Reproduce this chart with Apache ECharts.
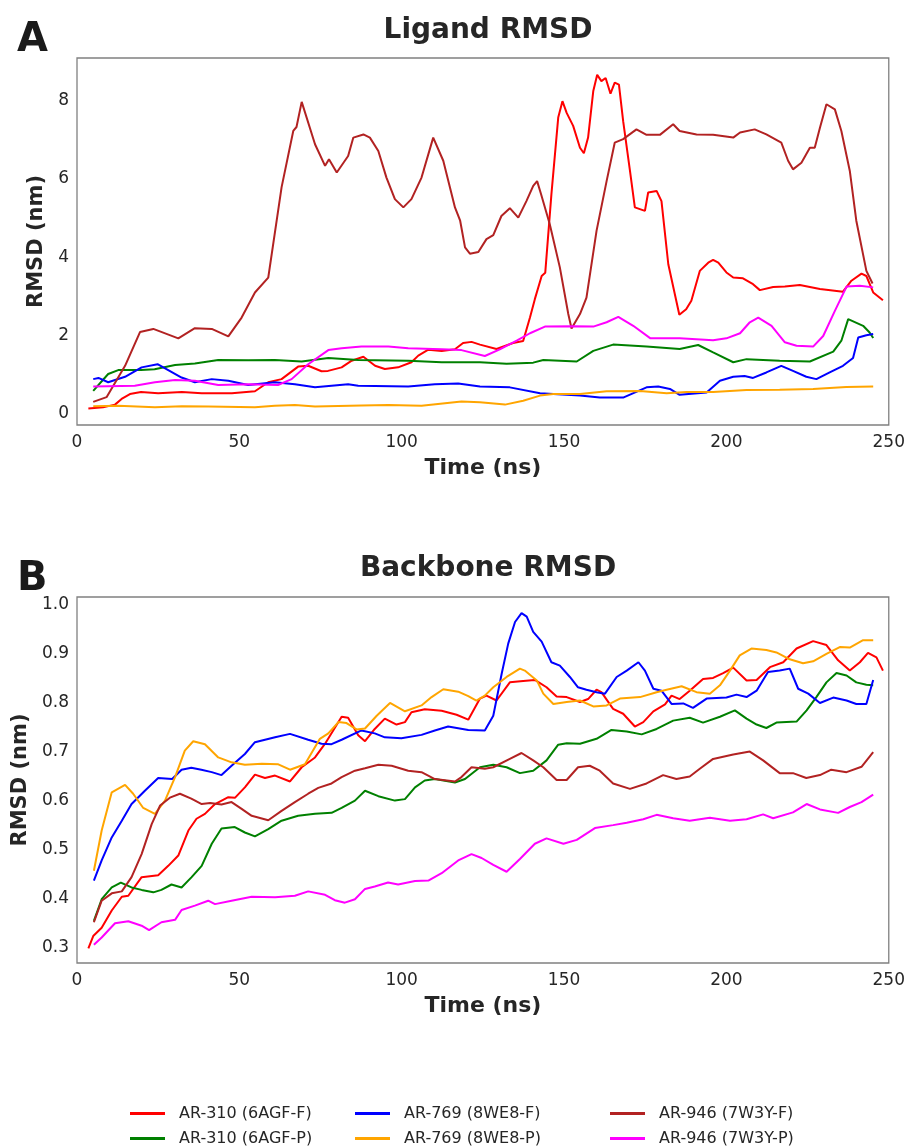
<!DOCTYPE html>
<html>
<head>
<meta charset="utf-8">
<script src="https://cdn.jsdelivr.net/npm/echarts@6/dist/echarts.min.js"></script>
<style>
  html, body { margin: 0; padding: 0; background: #fff; }
  #chart { width: 908px; height: 1148px; }
</style>
</head>
<body>
<div id="chart"></div>
<script>
// series names, in legend order
const names = ['AR-310 (6AGF-F)', 'AR-310 (6AGF-P)', 'AR-769 (8WE8-F)', 'AR-769 (8WE8-P)', 'AR-946 (7W3Y-F)', 'AR-946 (7W3Y-P)'];
const colors = ['#ff0000', '#008000', '#0000ff', '#ffa500', '#b22222', '#ff00ff'];

const timeTicks = [0, 50, 100, 150, 200, 250];
const ligandTicks = [0, 2, 4, 6, 8];
const backboneTicks = [0.3, 0.4, 0.5, 0.6, 0.7, 0.8, 0.9, 1.0];

// Ligand RMSD (nm), [time ns, value]
const lig310F = [[3.5,0.14],[8,0.17],[11.7,0.24],[14,0.4],[16.3,0.51],[19.7,0.56],[25,0.53],[32.3,0.56],[38.4,0.53],[47.7,0.53],[54.8,0.58],[58.9,0.81],[63,0.89],[68.1,1.21],[71.2,1.23],[75.3,1.09],[77.3,1.1],[81.5,1.19],[84.6,1.36],[88.2,1.46],[91.8,1.23],[94.8,1.15],[98.9,1.19],[103,1.32],[105.1,1.49],[108.2,1.64],[112.3,1.61],[116.4,1.65],[118.9,1.81],[121.5,1.84],[124.1,1.77],[129.2,1.66],[134.3,1.81],[137.4,1.86],[139.5,2.46],[141,2.93],[143.1,3.52],[144.2,3.6],[146.1,5.6],[148.2,7.56],[149.5,7.98],[150.8,7.68],[152.8,7.35],[154.9,6.79],[156.1,6.65],[157.4,7.05],[159,8.24],[160.2,8.65],[161.5,8.49],[162.8,8.57],[164.3,8.17],[165.6,8.45],[166.9,8.4],[168.2,7.47],[170.3,6.2],[171.8,5.27],[174.9,5.18],[175.9,5.65],[178.5,5.69],[180,5.43],[182.1,3.82],[185.5,2.53],[187.6,2.67],[189.2,2.89],[191.8,3.65],[194.4,3.86],[195.9,3.93],[197.5,3.86],[200,3.61],[202.1,3.48],[205.1,3.46],[208.2,3.31],[210.3,3.16],[214.4,3.24],[218,3.25],[222.6,3.29],[228.8,3.19],[235.9,3.12],[238.5,3.4],[241.6,3.58],[243.1,3.52],[245.2,3.1],[248.2,2.9]];
const lig310P = [[5,0.59],[9.6,1.02],[12.7,1.12],[19.7,1.12],[23.9,1.14],[30.2,1.25],[36.3,1.29],[43.5,1.38],[52.7,1.37],[60.9,1.38],[69.2,1.34],[77.4,1.43],[86.6,1.38],[102,1.36],[112.3,1.32],[124.1,1.32],[132.3,1.28],[140.5,1.31],[143.6,1.38],[153.9,1.34],[159,1.61],[165.1,1.77],[175.4,1.72],[185.6,1.66],[191.3,1.76],[195.9,1.57],[202.1,1.32],[206.2,1.4],[216.4,1.36],[225.7,1.34],[232.9,1.59],[235.4,1.87],[237.5,2.42],[242.1,2.25],[244.1,2.08],[245.2,1.94]];
const lig769F = [[5,0.89],[6.6,0.92],[9.6,0.81],[14.8,0.95],[19.9,1.19],[24.8,1.27],[28.1,1.12],[32.2,0.93],[36.3,0.81],[41.5,0.89],[46.6,0.85],[52.7,0.74],[60.9,0.81],[67.1,0.76],[73.3,0.68],[83.5,0.76],[86.6,0.72],[102,0.7],[110.2,0.76],[117.4,0.78],[124.1,0.7],[133.3,0.68],[142.6,0.53],[154.9,0.47],[161,0.42],[168.2,0.42],[175.4,0.68],[179,0.7],[182.6,0.64],[185.6,0.49],[193.9,0.55],[198,0.85],[202.1,0.95],[205.6,0.97],[208.2,0.92],[212.3,1.06],[216.9,1.23],[220.5,1.1],[224.6,0.95],[227.7,0.89],[231.8,1.06],[235.9,1.23],[239,1.43],[240.6,1.95],[243.1,2.01],[245.2,2.04]];
const lig769P = [[5,0.2],[12.7,0.21],[24,0.17],[32.3,0.2],[40.4,0.19],[54.8,0.17],[60.9,0.21],[67.1,0.23],[73.3,0.19],[87.6,0.22],[95.9,0.23],[106.1,0.21],[118.4,0.32],[124.1,0.3],[131.8,0.24],[137.4,0.34],[142.6,0.47],[146.7,0.51],[154.9,0.51],[163.1,0.58],[173.4,0.59],[181.6,0.53],[187.7,0.56],[195.9,0.56],[206.2,0.61],[216.4,0.62],[226.7,0.64],[236.9,0.69],[245.2,0.7]];
const lig946F = [[5,0.31],[9.1,0.43],[14.8,1.23],[19.4,2.09],[23.5,2.17],[31.2,1.93],[36.3,2.19],[41.5,2.17],[46.6,1.98],[50.7,2.46],[54.8,3.1],[58.9,3.48],[63,5.78],[66.6,7.22],[67.6,7.32],[69.2,7.96],[73.3,6.88],[76.4,6.33],[77.6,6.5],[80,6.16],[83.5,6.58],[85.1,7.05],[88.2,7.13],[90.2,7.05],[92.8,6.71],[95.3,6.03],[97.9,5.48],[100.5,5.27],[103,5.48],[106.1,6.03],[109.7,7.05],[112.8,6.46],[116.4,5.27],[118,4.93],[119.5,4.25],[121,4.09],[123.6,4.13],[126.1,4.46],[128.2,4.56],[130.7,5.05],[133.3,5.25],[135.9,5.01],[138.4,5.43],[140.5,5.82],[141.7,5.94],[142.9,5.61],[145.6,4.84],[148.7,3.74],[151.3,2.55],[152.3,2.18],[154.9,2.55],[156.9,2.97],[160,4.67],[163.1,5.94],[165.6,6.92],[168.2,7.01],[172.3,7.26],[175.4,7.12],[179.5,7.12],[183.6,7.39],[185.6,7.22],[190.8,7.13],[195.9,7.12],[202.1,7.05],[204.2,7.18],[208.7,7.26],[212.3,7.13],[216.9,6.92],[219,6.46],[220.5,6.24],[223.1,6.41],[225.7,6.79],[227.2,6.79],[228.8,7.3],[230.8,7.9],[233.4,7.77],[235.4,7.22],[238,6.2],[240,4.93],[243.1,3.65],[245,3.33]];
const lig946P = [[5,0.7],[17.8,0.72],[24,0.81],[30.2,0.87],[36.3,0.85],[43.5,0.74],[52.7,0.76],[61.9,0.74],[66.1,0.89],[71.2,1.27],[77.4,1.63],[81.5,1.68],[87.6,1.72],[95.9,1.72],[102,1.68],[112.3,1.65],[118.4,1.63],[125.6,1.48],[130.2,1.65],[135.4,1.87],[139.5,2.06],[144.1,2.23],[152.8,2.24],[159,2.23],[163.1,2.34],[166.7,2.48],[171.3,2.25],[176.6,1.93],[185.6,1.93],[195.9,1.88],[200,1.93],[204.2,2.06],[207.2,2.34],[209.8,2.46],[213.9,2.25],[218,1.83],[221.6,1.74],[226.7,1.72],[229.8,1.99],[233.4,2.63],[237,3.25],[241.1,3.27],[245.2,3.23]];

// Backbone RMSD (nm), [time ns, value]
const bb310F = [[3.5,0.299],[5,0.324],[7.6,0.341],[10.7,0.376],[13.8,0.404],[15.8,0.406],[19.9,0.444],[25,0.448],[28.1,0.467],[31.2,0.488],[34.3,0.539],[36.8,0.563],[39.4,0.573],[42.5,0.593],[46.6,0.607],[48.7,0.606],[51.7,0.627],[54.8,0.653],[57.9,0.646],[61,0.651],[65.6,0.639],[69.2,0.668],[73.3,0.688],[76.4,0.716],[78.9,0.743],[81.5,0.771],[83.5,0.769],[86.6,0.733],[88.7,0.721],[91.7,0.746],[94.8,0.767],[98.4,0.755],[101,0.76],[103,0.78],[107.1,0.786],[112.3,0.783],[116.9,0.775],[120.5,0.765],[124.1,0.808],[126.1,0.814],[129.2,0.804],[133.3,0.841],[137.4,0.844],[141,0.846],[144.6,0.831],[147.7,0.812],[150.8,0.811],[154.9,0.801],[157.4,0.807],[160,0.826],[161.5,0.821],[165.1,0.787],[168.2,0.777],[171.8,0.751],[174.4,0.76],[177.5,0.782],[181.1,0.796],[183.1,0.814],[185.6,0.807],[188.7,0.824],[192.8,0.848],[195.9,0.85],[199,0.86],[202.1,0.871],[206.2,0.845],[209.3,0.846],[213.4,0.872],[217.5,0.882],[221.6,0.91],[226.7,0.925],[230.8,0.917],[234.4,0.886],[238,0.865],[241.1,0.882],[243.6,0.901],[246.2,0.892],[248.2,0.865]];
const bb310P = [[5.2,0.355],[7.6,0.399],[10.7,0.423],[13.5,0.433],[16.8,0.423],[19.9,0.418],[23.5,0.413],[26,0.418],[29.1,0.429],[32.2,0.423],[35.3,0.444],[38.4,0.467],[41.5,0.512],[44.5,0.543],[48.6,0.546],[51.7,0.535],[54.8,0.527],[58.9,0.542],[63,0.559],[68.1,0.569],[73.3,0.573],[78.4,0.575],[81.5,0.585],[85.6,0.6],[88.7,0.62],[92.8,0.609],[97.9,0.6],[101,0.603],[104.1,0.627],[107.1,0.641],[110.2,0.644],[116.4,0.637],[119.5,0.644],[124.1,0.668],[128.2,0.673],[132.3,0.668],[136.4,0.656],[140.5,0.661],[144.6,0.682],[148.2,0.714],[150.8,0.717],[154.9,0.716],[160,0.726],[164.6,0.744],[169.3,0.741],[173.9,0.735],[178.5,0.746],[183.6,0.763],[188.7,0.769],[192.8,0.759],[198,0.771],[202.6,0.784],[206.2,0.767],[209.3,0.755],[212.3,0.748],[215.4,0.759],[221.6,0.761],[224.7,0.784],[227.7,0.811],[230.8,0.841],[233.9,0.86],[237,0.855],[240,0.841],[243.1,0.836],[245.2,0.835]];
const bb769F = [[5.2,0.437],[7.6,0.478],[10.7,0.525],[13.8,0.559],[16.8,0.593],[20.9,0.62],[25,0.646],[29.3,0.644],[32.2,0.663],[35.2,0.667],[38.3,0.663],[41.5,0.658],[44.5,0.652],[47.6,0.671],[51.7,0.695],[54.8,0.719],[61,0.729],[65.6,0.736],[71.2,0.724],[75.3,0.716],[78.4,0.715],[81.5,0.724],[87.6,0.743],[91.7,0.737],[94.8,0.729],[99.9,0.727],[106.1,0.734],[110.2,0.743],[114.3,0.751],[120.5,0.744],[125.6,0.743],[128.2,0.773],[130.8,0.859],[132.8,0.92],[134.9,0.964],[136.9,0.982],[138.5,0.975],[140.5,0.944],[143.1,0.924],[146.1,0.882],[148.7,0.875],[151.8,0.852],[154.3,0.831],[156.9,0.826],[160,0.821],[162.6,0.818],[166.2,0.852],[169.3,0.865],[172.9,0.882],[174.9,0.865],[177.5,0.828],[180,0.824],[183.1,0.797],[186.7,0.798],[189.7,0.789],[193.9,0.808],[200,0.81],[203.1,0.816],[206.2,0.811],[209.3,0.824],[212.8,0.862],[216.4,0.865],[219.5,0.869],[222.1,0.828],[225.2,0.818],[228.8,0.799],[232.9,0.81],[237,0.804],[240,0.797],[243.1,0.797],[245.2,0.846]];
const bb769P = [[5.2,0.457],[7.6,0.539],[10.7,0.617],[14.8,0.632],[17.3,0.614],[20.4,0.585],[24,0.573],[27.1,0.6],[30.2,0.648],[33.2,0.702],[35.8,0.721],[39.4,0.715],[43.5,0.688],[47.6,0.678],[51.7,0.673],[56.9,0.675],[62,0.674],[65.6,0.663],[70.2,0.674],[74.8,0.726],[77.4,0.737],[80.5,0.76],[83,0.758],[86.1,0.745],[88.7,0.747],[92.3,0.773],[96.4,0.799],[101,0.782],[106.1,0.794],[109.2,0.811],[112.8,0.827],[117.4,0.822],[120.5,0.813],[123,0.804],[125.6,0.814],[128.2,0.831],[132.3,0.852],[136.4,0.869],[137.9,0.865],[141.6,0.845],[143.6,0.818],[146.7,0.797],[150.8,0.801],[154.9,0.804],[159,0.792],[163.1,0.794],[167.2,0.808],[173.4,0.811],[178.5,0.821],[181.6,0.826],[186.2,0.833],[190.8,0.821],[194.9,0.818],[198,0.835],[201.1,0.865],[204.1,0.896],[207.7,0.91],[212.3,0.907],[215.4,0.902],[219.5,0.888],[223.6,0.88],[226.7,0.884],[230.8,0.899],[234.9,0.913],[238,0.912],[242.1,0.927],[245.2,0.927]];
const bb946F = [[5.2,0.352],[7.6,0.396],[10.7,0.411],[13.8,0.415],[16.8,0.444],[19.9,0.491],[23,0.552],[25.6,0.59],[28.6,0.606],[31.7,0.614],[35.2,0.604],[38.4,0.593],[41,0.595],[44.5,0.592],[47.6,0.597],[50.7,0.583],[53.8,0.569],[58.9,0.56],[63,0.579],[67.1,0.597],[71.2,0.614],[74.3,0.626],[78.4,0.635],[81.5,0.648],[85.6,0.661],[88.7,0.666],[92.8,0.673],[96.9,0.671],[102,0.661],[106.1,0.658],[110.2,0.644],[116.4,0.639],[118.4,0.648],[121.5,0.668],[125.6,0.665],[128.2,0.668],[133.3,0.685],[136.9,0.697],[140.5,0.682],[143.6,0.668],[147.7,0.642],[150.8,0.642],[154.3,0.668],[157.9,0.671],[161,0.661],[165.1,0.635],[170.3,0.624],[175.4,0.635],[180.5,0.652],[184.6,0.644],[188.7,0.649],[191.8,0.665],[195.9,0.685],[202.1,0.694],[207.2,0.7],[211.3,0.682],[216.4,0.656],[220.5,0.656],[224.6,0.646],[228.8,0.652],[232.3,0.663],[237,0.658],[241.6,0.669],[245.2,0.699]];
const bb946P = [[5.2,0.306],[7.6,0.321],[11.7,0.35],[15.8,0.354],[19.9,0.345],[22.2,0.336],[26,0.352],[30.2,0.357],[32.2,0.377],[36.3,0.386],[40.4,0.396],[42.5,0.389],[47.6,0.396],[53.8,0.404],[61,0.403],[67.1,0.406],[71.2,0.415],[76.4,0.408],[79.4,0.397],[82.5,0.392],[85.6,0.399],[88.7,0.42],[91.7,0.425],[95.8,0.433],[98.9,0.429],[104.1,0.436],[108.2,0.437],[112.3,0.452],[117.4,0.478],[121.5,0.491],[124.6,0.483],[128.2,0.469],[132.3,0.455],[136.4,0.481],[141,0.512],[144.6,0.523],[149.8,0.512],[153.9,0.52],[159.5,0.544],[165.1,0.55],[169.3,0.555],[174.4,0.562],[178.5,0.571],[183.6,0.564],[188.7,0.559],[194.9,0.565],[201.1,0.559],[206.2,0.562],[211.3,0.572],[214.4,0.564],[220.5,0.576],[224.7,0.593],[228.8,0.582],[234.4,0.575],[238,0.587],[241.6,0.597],[245.2,0.612]];

const ligandData = [lig310F, lig310P, lig769F, lig769P, lig946F, lig946P];
const backboneData = [bb310F, bb310P, bb769F, bb769P, bb946F, bb946P];

const FONT = 'DejaVu Sans';
const DARK = '#262626';

const chart = echarts.init(document.getElementById('chart'), null, { renderer: 'canvas' });

function xAxisFor(gridIndex) {
  return {
    type: 'value', gridIndex: gridIndex, min: 0, max: 250,
    name: 'Time (ns)', nameLocation: 'middle', nameGap: 32,
    nameTextStyle: { fontFamily: FONT, fontSize: 22, fontWeight: 'bold', color: DARK },
    axisLine: { show: false }, axisTick: { show: false }, splitLine: { show: false },
    axisLabel: { customValues: timeTicks, fontFamily: FONT, fontSize: 17, color: DARK, margin: 9 }
  };
}

function yAxisFor(gridIndex, min, max, ticks, fmt) {
  return {
    type: 'value', gridIndex: gridIndex, min: min, max: max,
    name: 'RMSD (nm)', nameLocation: 'middle', nameGap: 30, nameRotate: 90,
    nameTextStyle: { fontFamily: FONT, fontSize: 21, fontWeight: 'bold', color: DARK },
    axisLine: { show: false }, axisTick: { show: false }, splitLine: { show: false },
    axisLabel: { customValues: ticks, formatter: fmt, fontFamily: FONT, fontSize: 17, color: DARK, margin: 8 }
  };
}

const series = [];
names.forEach((n, i) => {
  series.push({
    name: n, type: 'line', xAxisIndex: 0, yAxisIndex: 0,
    data: ligandData[i], showSymbol: false, symbol: 'none',
    lineStyle: { color: colors[i], width: 2 }, itemStyle: { color: colors[i] }
  });
});
names.forEach((n, i) => {
  series.push({
    name: n, type: 'line', xAxisIndex: 1, yAxisIndex: 1,
    data: backboneData[i], showSymbol: false, symbol: 'none',
    lineStyle: { color: colors[i], width: 2 }, itemStyle: { color: colors[i] }
  });
});

// legend: 3 columns x 2 rows
const legendCols = [[names[0], names[1]], [names[2], names[3]], [names[4], names[5]]];
const legendLeft = [130, 355, 610];
const legends = legendCols.map((col, i) => ({
  data: col, orient: 'vertical', left: legendLeft[i], top: 1104, height: 44, padding: 0,
  icon: 'rect', itemWidth: 35, itemHeight: 3, itemGap: 6,
  textStyle: { fontFamily: FONT, fontSize: 16, color: DARK, lineHeight: 19, padding: [0, 0, 0, 9] }
}));

const option = {
  animation: false,
  backgroundColor: '#ffffff',
  title: [
    { text: 'A', left: 12, top: 16, textStyle: { fontFamily: FONT, fontSize: 40, fontWeight: 'bold', color: '#1a1a1a' } },
    { text: 'Ligand RMSD', left: 483, textAlign: 'center', top: 12, textStyle: { fontFamily: FONT, fontSize: 28, fontWeight: 'bold', color: DARK } },
    { text: 'B', left: 12, top: 555, textStyle: { fontFamily: FONT, fontSize: 40, fontWeight: 'bold', color: '#1a1a1a' } },
    { text: 'Backbone RMSD', left: 483, textAlign: 'center', top: 550, textStyle: { fontFamily: FONT, fontSize: 28, fontWeight: 'bold', color: DARK } }
  ],
  legend: legends,
  grid: [
    { left: 77, top: 58, width: 812, height: 367, show: true, borderColor: '#808080', borderWidth: 1.3, backgroundColor: 'transparent' },
    { left: 77, top: 597, width: 812, height: 366, show: true, borderColor: '#808080', borderWidth: 1.3, backgroundColor: 'transparent' }
  ],
  xAxis: [xAxisFor(0), xAxisFor(1)],
  yAxis: [
    yAxisFor(0, -0.28, 9.08, ligandTicks, v => String(v)),
    yAxisFor(1, 0.269, 1.015, backboneTicks, v => v.toFixed(1))
  ],
  series: series
};

chart.setOption(option);
</script>
</body>
</html>
